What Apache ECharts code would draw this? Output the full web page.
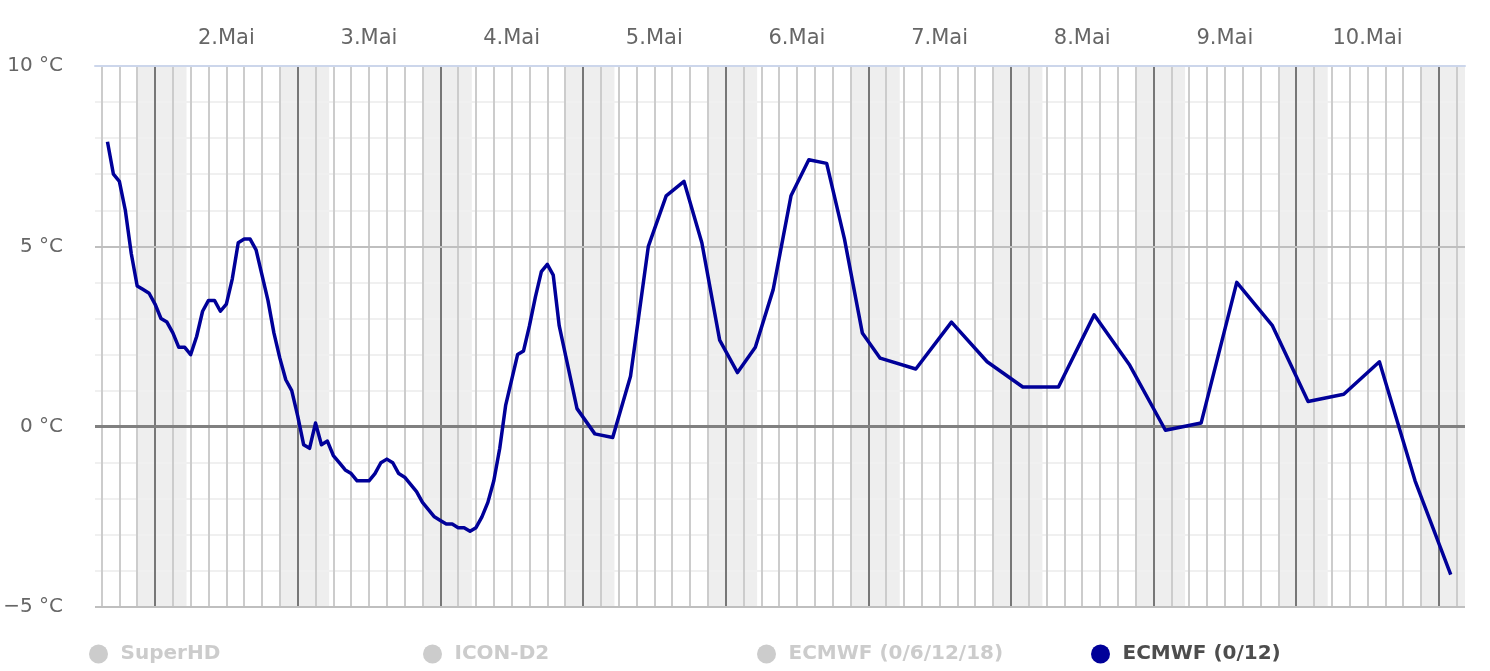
<!DOCTYPE html>
<html>
<head>
<meta charset="utf-8">
<script src="https://cdn.jsdelivr.net/npm/echarts@6/dist/echarts.min.js"></script>
<style>
  html, body { margin: 0; padding: 0; background: #ffffff; }
  #chart { width: 1490px; height: 671px; }
</style>
</head>
<body>
<div id="chart"></div>
<script>
// ---- data (hours counted from 1.Mai 00:00 local time) ----
const hoursECMWF = [
  16,17,18,19,20,21,22,23,24,25,26,27,28,29,30,31,32,33,34,35,36,37,38,39,40,41,42,43,44,45,
  46,47,48,49,50,51,52,53,54,55,56,57,58,59,60,61,62,63,64,65,66,67,68,69,70,71,72,73,74,75,
  76,77,78,79,80,81,82,83,84,85,86,87,88,89,90,91,92,
  95,98,101,104,107,110,113,116,119,122,125,128,131,134,137,140,143,146,
  152,158,164,170,176,182,188,194,200,206,212,218,224,230,236,242
];
const tempECMWF = [
  7.9,7.0,6.8,6.0,4.8,3.9,3.8,3.7,3.4,3.0,2.9,2.6,2.2,2.2,2.0,2.5,3.2,3.5,3.5,3.2,3.4,4.1,5.1,5.2,5.2,4.9,4.2,3.5,2.6,1.9,
  1.3,1.0,0.3,-0.5,-0.6,0.1,-0.5,-0.4,-0.8,-1.0,-1.2,-1.3,-1.5,-1.5,-1.5,-1.3,-1.0,-0.9,-1.0,-1.3,-1.4,-1.6,-1.8,-2.1,-2.3,-2.5,-2.6,-2.7,-2.7,-2.8,
  -2.8,-2.9,-2.8,-2.5,-2.1,-1.5,-0.6,0.6,1.3,2.0,2.1,2.8,3.6,4.3,4.5,4.2,2.8,
  0.5,-0.2,-0.3,1.4,5.0,6.4,6.8,5.1,2.4,1.5,2.2,3.8,6.4,7.4,7.3,5.2,2.6,1.9,
  1.6,2.9,1.8,1.1,1.1,3.1,1.7,-0.1,0.1,4.0,2.8,0.7,0.9,1.8,-1.5,-4.1
];
const dayLabels = ['2.Mai','3.Mai','4.Mai','5.Mai','6.Mai','7.Mai','8.Mai','9.Mai','10.Mai'];
const dayLabelHours = [36,60,84,108,132,156,180,204,228];   // noon of each day
const legendNames = ['SuperHD','ICON-D2','ECMWF (0/6/12/18)','ECMWF (0/12)'];

// ---- axis range & helpers ----
const X_MIN = 13.9, X_MAX = 244.4;
const DUSK = 21.0, DAWN = 29.3;
const gridHours = [];
for (let h = 15; h <= X_MAX; h += 3) gridHours.push(h);
const nightBands = [];
for (let d = 0; d * 24 + DUSK < X_MAX; d++) {
  nightBands.push([d * 24 + DUSK, Math.min(d * 24 + DAWN, X_MAX)]);
}

const FONT = 'DejaVu Sans';
const chart = echarts.init(document.getElementById('chart'), null, { renderer: 'canvas' });

const legendLefts = [84, 418, 752, 1086];
const legends = legendNames.map((n, i) => ({
  data: [n],
  left: legendLefts[i],
  top: 639,
  icon: 'circle',
  itemWidth: 34,
  itemHeight: 19,
  inactiveColor: '#cccccc',
  selectedMode: true,
  textStyle: { fontFamily: FONT, fontWeight: 'bold', fontSize: 20, color: '#4d4d4d' },
  selected: { 'SuperHD': false, 'ICON-D2': false, 'ECMWF (0/6/12/18)': false, 'ECMWF (0/12)': true }
}));

const option = {
  animation: false,
  backgroundColor: '#ffffff',
  textStyle: { fontFamily: FONT },
  legend: legends,
  grid: { left: 95, top: 66, width: 1370, height: 541, outerBoundsMode: 'none' },
  xAxis: [
    {
      type: 'value', min: X_MIN, max: X_MAX, position: 'bottom',
      axisLine: { show: false }, axisTick: { show: false },
      axisLabel: { show: false }, splitLine: { show: false }
    },
    {
      type: 'value', min: X_MIN, max: X_MAX, position: 'top', z: 3,
      axisLine: { show: true, onZero: false, lineStyle: { color: '#ccd6eb', width: 2 } },
      axisTick: { show: false }, splitLine: { show: false },
      axisLabel: {
        customValues: dayLabelHours,
        formatter: (v) => dayLabels[dayLabelHours.indexOf(v)] || '',
        color: '#666666', fontSize: 21, fontFamily: FONT, margin: 17
      }
    }
  ],
  yAxis: [
    {
      type: 'value', min: -5, max: 10, interval: 5, z: -2, position: 'left',
      axisLine: { show: false }, axisTick: { show: false }, axisLabel: { show: false },
      splitLine: { show: false },
      minorTick: { show: false, splitNumber: 5 },
      minorSplitLine: { show: true, lineStyle: { color: '#f0f0f0', width: 2 } }
    },
    {
      type: 'value', min: -5, max: 10, interval: 5, z: 0, position: 'left', offset: 0,
      axisLine: { show: false }, axisTick: { show: false },
      axisLabel: {
        formatter: (v) => (v < 0 ? '\u2212' + Math.abs(v) : String(v)) + ' \u00B0C',
        color: '#666666', fontSize: 20, fontFamily: FONT, margin: 32
      },
      splitLine: { show: true, lineStyle: { color: '#bfbfbf', width: 2 } }
    }
  ],
  series: [
    {
      name: 'nights', type: 'line', data: [], z: -3, silent: true,
      markArea: {
        silent: true, z: -3, itemStyle: { color: '#eeeeee' },
        data: nightBands.map(b => [{ xAxis: b[0] }, { xAxis: b[1] }])
      }
    },
    {
      name: 'vgrid', type: 'line', data: [], z: -1, silent: true,
      markLine: {
        silent: true, z: -1, symbol: ['none', 'none'], label: { show: false }, animation: false,
        data: gridHours.map(h => ({
          xAxis: h,
          lineStyle: { color: h % 24 === 0 ? '#777777' : '#cccccc', width: 2, type: 'solid' }
        }))
      }
    },
    {
      name: 'zero', type: 'line', data: [], z: 1, silent: true,
      markLine: {
        silent: true, z: 1, symbol: ['none', 'none'], label: { show: false }, animation: false,
        data: [{ yAxis: 0, lineStyle: { color: '#808080', width: 3, type: 'solid' } }]
      }
    },
    { name: 'SuperHD', type: 'line', data: [], color: '#7cb5ec' },
    { name: 'ICON-D2', type: 'line', data: [], color: '#434348' },
    { name: 'ECMWF (0/6/12/18)', type: 'line', data: [], color: '#90ed7d' },
    {
      name: 'ECMWF (0/12)', type: 'line', z: 5, color: '#000099',
      showSymbol: false, symbol: 'none',
      lineStyle: { color: '#000099', width: 3.5, join: 'round' },
      data: hoursECMWF.map((h, i) => [h, tempECMWF[i]])
    }
  ]
};
chart.setOption(option);
</script>
</body>
</html>
